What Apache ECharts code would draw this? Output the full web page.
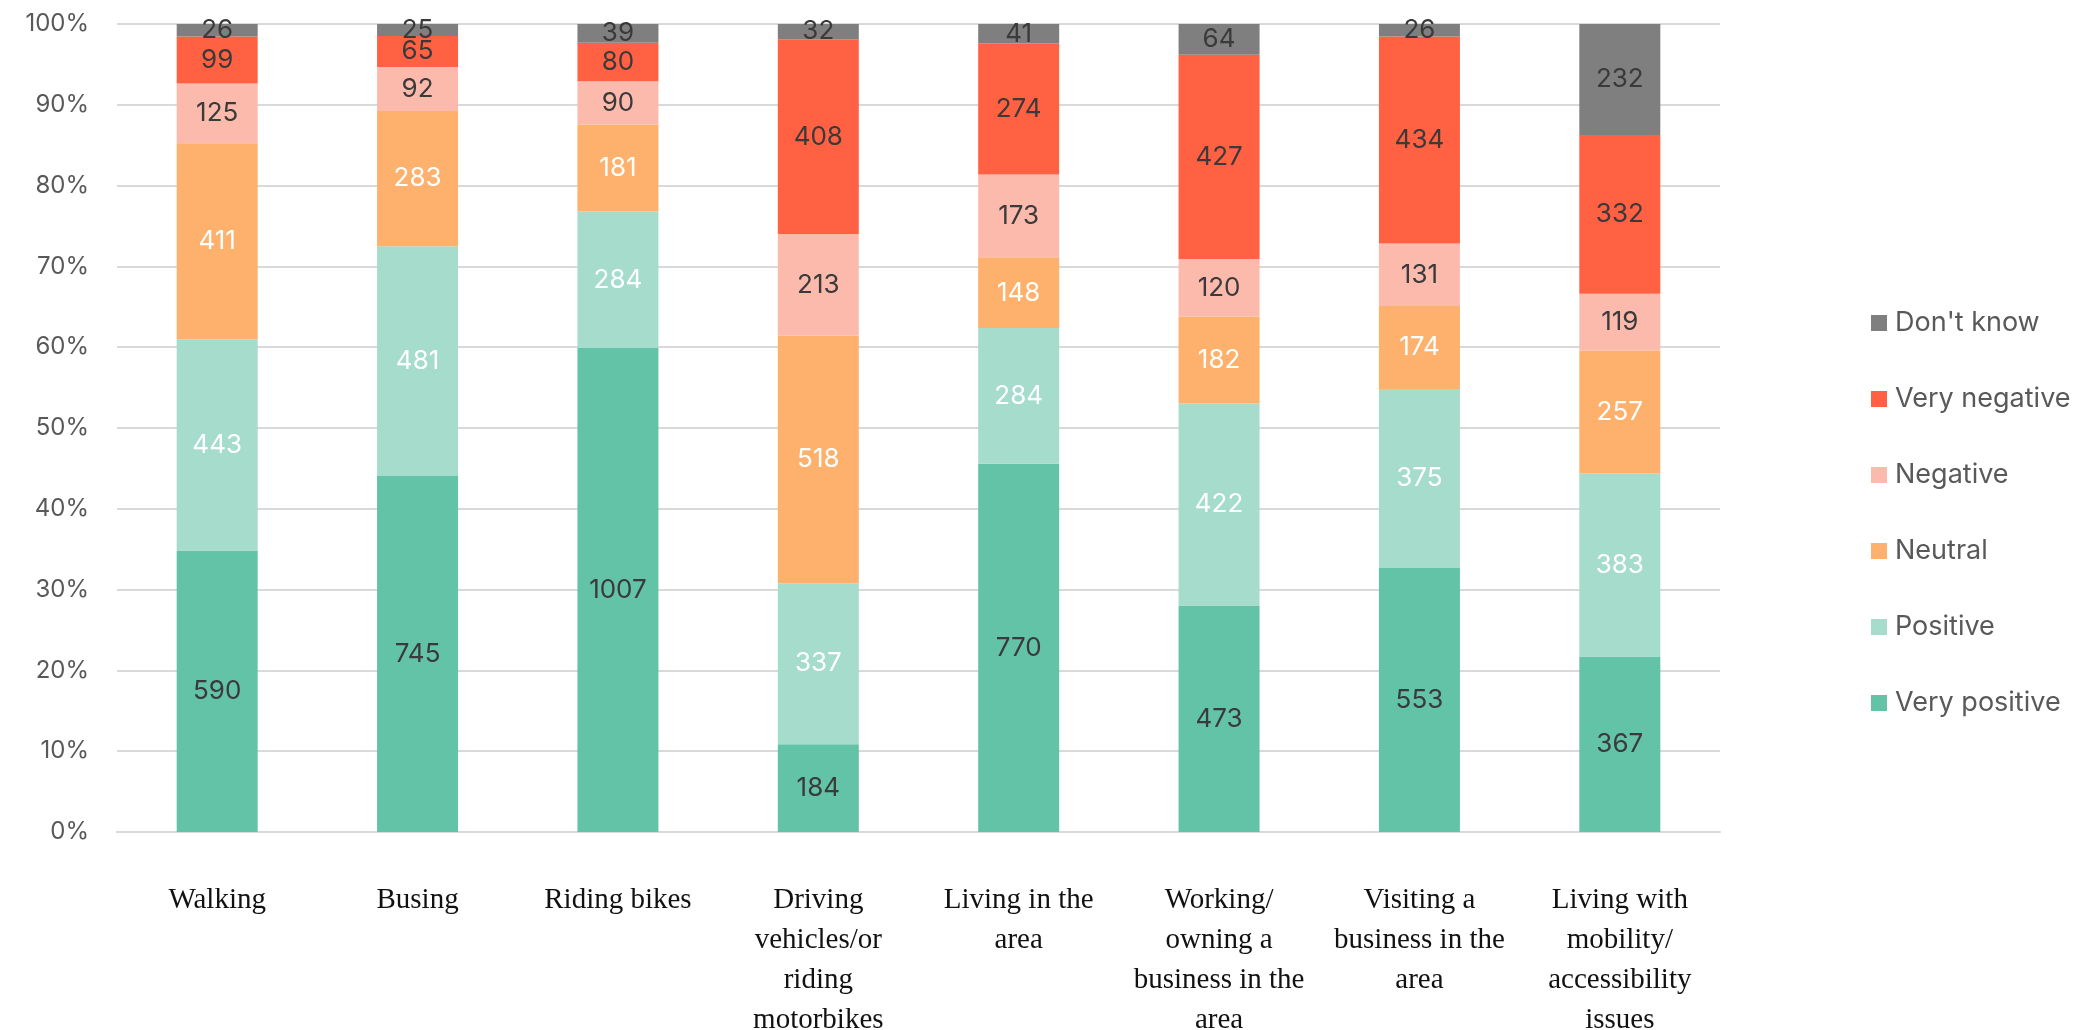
<!DOCTYPE html>
<html>
<head>
<meta charset="utf-8">
<title>Perceived impact by group</title>
<script src="https://cdn.jsdelivr.net/npm/echarts@6/dist/echarts.min.js"></script>
<style>
  html, body { margin: 0; padding: 0; background: #ffffff; }
  #chart { width: 2078px; height: 1030px; }
</style>
</head>
<body>
<div id="chart"></div>
<script>
// Respondent groups (x axis)
const categories = [
  'Walking',
  'Busing',
  'Riding bikes',
  'Driving\nvehicles/or\nriding\nmotorbikes',
  'Living in the\narea',
  'Working/\nowning a\nbusiness in the\narea',
  'Visiting a\nbusiness in the\narea',
  'Living with\nmobility/\naccessibility\nissues'
];

// Response counts per group
const veryPositive = [590, 745, 1007, 184, 770, 473, 553, 367];
const positive     = [443, 481, 284, 337, 284, 422, 375, 383];
const neutral      = [411, 283, 181, 518, 148, 182, 174, 257];
const negative     = [125, 92, 90, 213, 173, 120, 131, 119];
const veryNegative = [99, 65, 80, 408, 274, 427, 434, 332];
const dontKnow     = [26, 25, 39, 32, 41, 64, 26, 232];

const yTicks = [0, 10, 20, 30, 40, 50, 60, 70, 80, 90, 100];

const seriesDefs = [
  { name: 'Very positive', counts: veryPositive, color: '#63c3a7', text: '#3a3a3a' },
  { name: 'Positive',      counts: positive,     color: '#a5dccb', text: '#ffffff' },
  { name: 'Neutral',       counts: neutral,      color: '#fdb16c', text: '#ffffff' },
  { name: 'Negative',      counts: negative,     color: '#fcbaad', text: '#3a3a3a' },
  { name: 'Very negative', counts: veryNegative, color: '#ff6142', text: '#3a3a3a' },
  { name: "Don't know",    counts: dontKnow,     color: '#7f7f7f', text: '#3a3a3a' }
];

// Totals per group, used to turn counts into shares of 100%
const totals = categories.map((_, i) =>
  seriesDefs.reduce((s, d) => s + d.counts[i], 0));

const series = seriesDefs.map(d => ({
  name: d.name,
  type: 'bar',
  stack: 'total',
  barWidth: 81,
  itemStyle: { color: d.color },
  emphasis: { disabled: true },
  data: d.counts.map((c, i) => ({ value: c / totals[i] * 100, count: c })),
  label: {
    show: true,
    position: 'inside',
    color: d.text,
    fontFamily: 'Inter, "Noto Sans", sans-serif',
    fontSize: 26,
    formatter: p => String(p.data.count)
  }
}));

const chart = echarts.init(document.getElementById('chart'), null, { renderer: 'canvas' });
chart.setOption({
  animation: false,
  backgroundColor: '#ffffff',
  grid: {
    left: 117, right: 358, top: 24, bottom: 198,
    containLabel: false,
    outerBoundsMode: 'none'
  },
  legend: {
    orient: 'vertical',
    left: 1866,
    top: 303,
    itemWidth: 16,
    itemHeight: 16,
    itemGap: 46,
    icon: 'rect',
    data: ["Don't know", 'Very negative', 'Negative', 'Neutral', 'Positive', 'Very positive'],
    textStyle: {
      color: '#595959',
      fontFamily: 'Inter, "Noto Sans", sans-serif',
      fontSize: 27,
      lineHeight: 30,
      padding: [0, 0, 0, 3]
    }
  },
  xAxis: {
    type: 'category',
    data: categories,
    axisLine: { show: true, lineStyle: { color: '#d9d9d9', width: 2 } },
    axisTick: { show: false },
    axisLabel: {
      interval: 0,
      margin: 48,
      color: '#111111',
      fontFamily: '"Liberation Serif", "DejaVu Serif", serif',
      fontSize: 29,
      lineHeight: 40,
      align: 'center'
    }
  },
  yAxis: {
    type: 'value',
    min: yTicks[0],
    max: yTicks[yTicks.length - 1],
    interval: 10,
    axisLine: { show: false },
    axisTick: { show: false },
    splitLine: { lineStyle: { color: '#d9d9d9', width: 2 } },
    axisLabel: {
      margin: 28,
      color: '#595959',
      fontFamily: 'Inter, "Noto Sans", sans-serif',
      fontSize: 24,
      formatter: v => v + '%'
    }
  },
  series: series
});
</script>
</body>
</html>
